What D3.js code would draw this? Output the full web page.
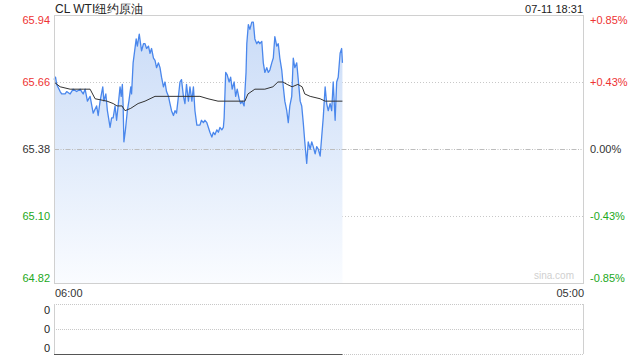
<!DOCTYPE html>
<html>
<head>
<meta charset="utf-8">
<script src="https://cdn.jsdelivr.net/npm/d3@7/dist/d3.min.js"></script>
<style>
html,body{margin:0;padding:0;background:#fff;}
svg{display:block;font-family:"Liberation Sans",Arial,sans-serif;}
</style>
</head>
<body>
<svg id="c" width="640" height="360"></svg>
<script>
// ---- data ----
const title = "CL WTI纽约原油";
const stamp = "07-11 18:31";
const prevClose = 65.38;
const priceTicks = [65.94, 65.66, 65.38, 65.10, 64.82];
const pctTicks = ["+0.85%", "+0.43%", "0.00%", "-0.43%", "-0.85%"];
const timeTicks = ["06:00", "05:00"];
const volTicks = ["0", "0", "0"];
// minutes elapsed since 06:00
const times = [0,3,4,7,16,20,29,33,42,50,59,68,72,76,81,87,94,102,111,115,120,127,130,135,139,146,150,154,159,163,167,172,175,178,180,182,186,191,195,200,202,206,214,217,222,228,233,237,241,246,250,254,259,263,267,272,276,280,285,289,293,298,302,306,311,315,319,324,328,332,337,341,345,350,354,359,363,367,372,380,384,389,393,398,402,406,411,415,419,424,428,432,437,441,443,447,451,456,460,464,469,473,477,482,486,490,495,500,502,506,510,515,519,523,528,532,536,541,545,549,554,558,562,567,571,575,580,584,588,593,597,601,606,610,614,619,623,627,632,636,641,645,649,653,658,662,667,671,675,680,684,688,693,697,701,706,710,714,719,723,727,732,736,740,745,749,751];
const prices = [65.67,65.68,65.68,65.65,65.62,65.61,65.61,65.62,65.61,65.63,65.62,65.63,65.62,65.61,65.63,65.58,65.60,65.53,65.56,65.52,65.58,65.64,65.58,65.61,65.54,65.47,65.51,65.51,65.56,65.50,65.56,65.64,65.60,65.65,65.56,65.41,65.46,65.54,65.58,65.64,65.61,65.74,65.84,65.81,65.86,65.79,65.82,65.82,65.80,65.81,65.78,65.80,65.76,65.75,65.72,65.74,65.72,65.68,65.64,65.66,65.62,65.60,65.57,65.54,65.52,65.54,65.53,65.60,65.66,65.67,65.60,65.57,65.65,65.58,65.64,65.58,65.64,65.54,65.48,65.48,65.50,65.49,65.50,65.49,65.47,65.45,65.43,65.45,65.44,65.46,65.45,65.47,65.46,65.47,65.51,65.70,65.69,65.66,65.68,65.63,65.66,65.60,65.63,65.59,65.57,65.58,65.56,65.70,65.82,65.90,65.88,65.91,65.91,65.84,65.82,65.83,65.82,65.83,65.74,65.70,65.72,65.70,65.71,65.74,65.76,65.85,65.81,65.82,65.76,65.71,65.64,65.58,65.54,65.49,65.56,65.60,65.76,65.72,65.74,65.67,65.58,65.56,65.49,65.41,65.32,65.41,65.38,65.41,65.39,65.36,65.39,65.38,65.35,65.43,65.51,65.64,65.57,65.54,65.57,65.54,65.66,65.50,65.66,65.68,65.78,65.80,65.74];
const avgTimes = [0,16,42,76,94,107,138,154,164,177,185,200,219,237,250,263,380,401,427,497,505,523,549,570,583,596,607,620,635,646,653,667,693,706,732,751];
const avgPrices = [65.66,65.64,65.63,65.63,65.63,65.59,65.58,65.57,65.56,65.56,65.54,65.55,65.57,65.58,65.59,65.60,65.60,65.59,65.58,65.58,65.61,65.63,65.63,65.64,65.66,65.66,65.65,65.64,65.65,65.64,65.61,65.60,65.59,65.58,65.58,65.58];
const volTimes = [0, 751];
const volValues = [0, 0];
const sessionMinutes = 1380;

// ---- layout ----
const L = 54, R = 584, T = 15, B = 283;
const VT = 304, VB = 354;
const red = "#ee3333", green = "#22a822", dark = "#333";

const svg = d3.select("#c");
const x = d3.scaleLinear().domain([0, sessionMinutes]).range([L, R]);
const y = d3.scaleLinear().domain([priceTicks[4], priceTicks[0]]).range([B, T]);
const yv = d3.scaleLinear().domain([0, 1]).range([VB, VT]);

const defs = svg.append("defs");
const g = defs.append("linearGradient").attr("id","fillg")
  .attr("gradientUnits","userSpaceOnUse").attr("x1",0).attr("x2",0).attr("y1",T).attr("y2",B);
g.append("stop").attr("offset","0").attr("stop-color","#c9dbf7");
g.append("stop").attr("offset","0.55").attr("stop-color","#e2ecfb");
g.append("stop").attr("offset","1").attr("stop-color","#fafcff");

// gridlines
[priceTicks[1], priceTicks[3]].forEach(v => {
  svg.append("line").attr("x1",L).attr("x2",R).attr("y1",Math.round(y(v))+0.5).attr("y2",Math.round(y(v))+0.5)
    .attr("stroke","#c8c8c8").attr("stroke-dasharray","1,2");
});

// area + lines
const area = d3.area().x((d,i)=>x(times[i])).y0(B).y1(d=>y(d));
svg.append("path").datum(prices).attr("d",area).attr("fill","url(#fillg)");

svg.append("line").attr("x1",L).attr("x2",R).attr("y1",Math.round(y(prevClose))+0.5).attr("y2",Math.round(y(prevClose))+0.5)
  .attr("stroke","#bdbdbd").attr("stroke-dasharray","5,1.5,1,1.5,1,1.5");

const line = d3.line().x((d,i)=>x(times[i])).y(d=>y(d));
svg.append("path").datum(prices).attr("d",line).attr("fill","none")
  .attr("stroke","#4a87ec").attr("stroke-width",1.3).attr("stroke-linejoin","round");
const aline = d3.line().x((d,i)=>x(avgTimes[i])).y(d=>y(d));
svg.append("path").datum(avgPrices).attr("d",aline).attr("fill","none")
  .attr("stroke","#333").attr("stroke-width",1);

// frame
svg.append("rect").attr("x",L+0.5).attr("y",T+0.5).attr("width",R-L-1).attr("height",B-T)
  .attr("fill","none").attr("stroke","#d0d0d0");

// left labels
const lcol = [red, red, dark, green, green];
const loff = [5, 0, 0, 0, -5];
priceTicks.forEach((v,i)=>{
  svg.append("text").attr("x",L-4).attr("y",y(v)+loff[i]).attr("dy","0.35em")
    .attr("text-anchor","end").attr("font-size",11).attr("fill",lcol[i]).text(v.toFixed(2));
  svg.append("text").attr("x",R+6).attr("y",y(v)+loff[i]).attr("dy","0.35em")
    .attr("text-anchor","start").attr("font-size",11).attr("fill",lcol[i]).text(pctTicks[i]);
});

// title & stamp
svg.append("text").attr("x",L+1).attr("y",13).attr("font-size",12).attr("fill","#222").text(title);
svg.append("text").attr("x",R-1).attr("y",13).attr("text-anchor","end").attr("font-size",11).attr("fill","#222").text(stamp);

// watermark
svg.append("text").attr("x",R-10).attr("y",B-4).attr("text-anchor","end").attr("font-size",10).attr("fill","#d0d0d0").text("sina.com");

// time labels
svg.append("text").attr("x",L+1).attr("y",297).attr("font-size",11).attr("fill","#333").text(timeTicks[0]);
svg.append("text").attr("x",R).attr("y",297).attr("text-anchor","end").attr("font-size",11).attr("fill","#333").text(timeTicks[1]);

// volume panel
svg.append("line").attr("x1",L).attr("x2",R).attr("y1",VT+0.5).attr("y2",VT+0.5).attr("stroke","#c8c8c8").attr("stroke-dasharray","1,1");
svg.append("line").attr("x1",L).attr("x2",R).attr("y1",(VT+VB)/2+0.5).attr("y2",(VT+VB)/2+0.5).attr("stroke","#c8c8c8").attr("stroke-dasharray","1,1");
svg.append("line").attr("x1",L).attr("x2",R).attr("y1",VB+0.5).attr("y2",VB+0.5).attr("stroke","#c8c8c8").attr("stroke-dasharray","1,1");
svg.append("line").attr("x1",L+0.5).attr("x2",L+0.5).attr("y1",VT).attr("y2",VB).attr("stroke","#d0d0d0");
svg.append("line").attr("x1",R-0.5).attr("x2",R-0.5).attr("y1",VT).attr("y2",VB).attr("stroke","#d0d0d0");
const vline = d3.line().x((d,i)=>x(volTimes[i])).y(d=>yv(d)+0.5);
svg.append("path").datum(volValues).attr("d",vline).attr("fill","none").attr("stroke","#555").attr("stroke-width",1);
const vy = [VT+6, (VT+VB)/2, VB-6];
volTicks.forEach((t,i)=>{
  svg.append("text").attr("x",L-4).attr("y",vy[i]).attr("dy","0.35em").attr("text-anchor","end")
    .attr("font-size",11).attr("fill","#222").text(t);
});
</script>
</body>
</html>
